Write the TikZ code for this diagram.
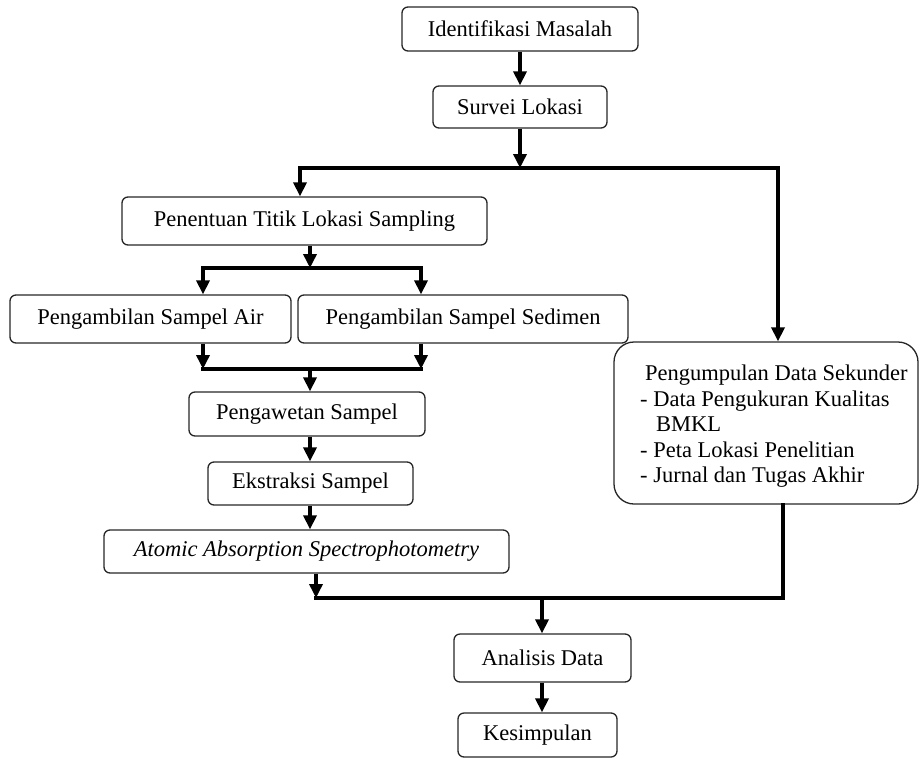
\documentclass[tikz,border=0pt]{standalone}
\usepackage{fontspec}
\setmainfont{Liberation Serif}
\usetikzlibrary{arrows.meta}
\begin{document}
\begin{tikzpicture}[x=1pt,y=-1pt,
  box/.style={draw=black!85, line width=1.3pt, rounded corners=6pt, inner sep=0pt,
    font=\fontsize{22.5}{25.5}\selectfont, text=black},
  conn/.style={line width=3.8pt, line join=miter, line cap=rect},
  arr/.style={line width=3.8pt, -{Triangle[length=14pt,width=13pt]}},
  both/.style={line width=3.8pt, line join=miter, {Triangle[length=14pt,width=13pt]}-{Triangle[length=14pt,width=13pt]}}]
\useasboundingbox (0,0) rectangle (923,758);
% boxes
\node[box, minimum width=236pt, minimum height=44pt] (id) at (520,29) {Identifikasi Masalah};
\node[box, minimum width=174pt, minimum height=42pt] (sv) at (520,107) {Survei Lokasi};
\node[box, minimum width=365pt, minimum height=48pt] (pt) at (304.5,221) {Penentuan Titik Lokasi Sampling};
\node[box, minimum width=281pt, minimum height=48pt] (air) at (150.5,319) {Pengambilan Sampel Air};
\node[box, minimum width=330pt, minimum height=48pt] (sed) at (463,319) {Pengambilan Sampel Sedimen};
\node[box, minimum width=236pt, minimum height=44pt] (pw) at (307,414) {Pengawetan Sampel};
\node[box, minimum width=205pt, minimum height=43pt] (ek) at (310.5,483.5) {Ekstraksi Sampel};
\node[box, minimum width=405pt, minimum height=43pt] (aas) at (306.5,551.5) {\textit{Atomic Absorption Spectrophotometry}};
\node[box, rounded corners=20pt, minimum width=304pt, minimum height=162pt] (pd) at (766,423) {};
\node[anchor=north west, inner sep=0pt, align=left, font=\fontsize{22.5}{25.5}\selectfont] (pdtext) at (640,365)
  {\hspace{5pt}Pengumpulan Data Sekunder\\- Data Pengukuran Kualitas\\\hspace{16pt}BMKL\\- Peta Lokasi Penelitian\\- Jurnal dan Tugas Akhir};
\node[box, minimum width=177pt, minimum height=48pt] (an) at (542.5,658) {Analisis Data};
\node[box, minimum width=159pt, minimum height=44pt] (ks) at (537.5,735) {Kesimpulan};
% junction coordinates
\coordinate (t1) at (300,168);
\coordinate (t2) at (778,168);
\coordinate (m1) at (203,268);
\coordinate (m2) at (421,268);
\coordinate (mc) at (310,268);
\coordinate (b1) at (203,369);
\coordinate (b2) at (421,369);
\coordinate (bc) at (310,369);
\coordinate (l1) at (316,598);
\coordinate (l2) at (783,598);
\coordinate (lc) at (542,598);
% connectors
\draw[arr] (id) -- (sv);
\draw[arr] (sv.south) -- (sv.south |- t1);
\draw[both] (t1 |- pt.north) -- (t1) -- (t2) -- (t2 |- pd.north);
\draw[arr] (mc |- pt.south) -- (mc);
\draw[both] (m1 |- air.north) -- (m1) -- (m2) -- (m2 |- sed.north);
\draw[arr] (b1 |- air.south) -- (b1);
\draw[arr] (b2 |- sed.south) -- (b2);
\draw[conn] (b1) -- (b2);
\draw[arr] (bc) -- (bc |- pw.north);
\draw[arr] (pw.south -| bc) -- (ek.north -| bc);
\draw[arr] (ek.south -| bc) -- (aas.north -| bc);
\draw[arr] (l1 |- aas.south) -- (l1);
\draw[conn] (l1) -- (l2) -- (l2 |- pd.south);
\draw[arr] (lc) -- (lc |- an.north);
\draw[arr] (an.south -| lc) -- (ks.north -| lc);
\end{tikzpicture}
\end{document}
